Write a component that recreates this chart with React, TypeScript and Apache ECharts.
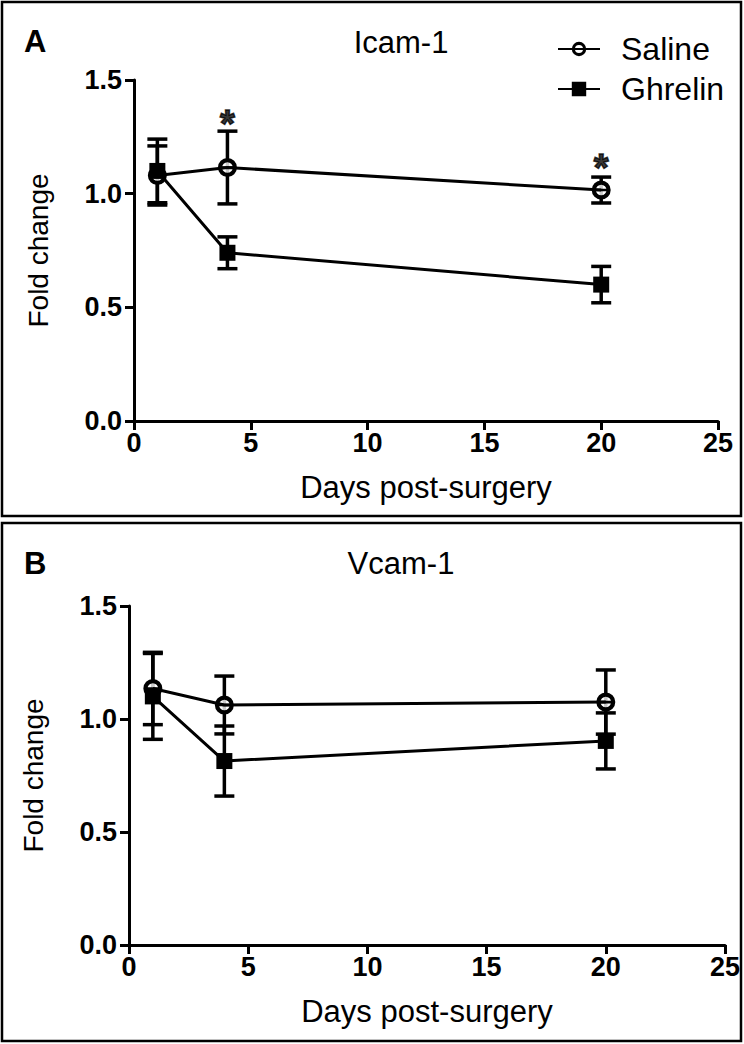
import React, { useEffect, useRef } from "react";
import * as echarts from "echarts";

const days = [1, 4, 20];
const icamSaline = [1.08, 1.115, 1.016];
const icamSalineSem = [0.13, 0.16, 0.057];
const icamGhrelin = [1.1, 0.74, 0.6];
const icamGhrelinSem = [0.14, 0.07, 0.08];
const icamStars = [[4, 1.335], [20, 1.14]];

const vcamSaline = [1.135, 1.062, 1.075];
const vcamSalineSem = [0.16, 0.128, 0.142];
const vcamGhrelin = [1.1, 0.814, 0.903];
const vcamGhrelinSem = [0.19, 0.155, 0.124];

const xLabel = "Days post-surgery";
const yLabel = "Fold change";
const panelTitles = ["Icam-1", "Vcam-1"];
const panelLetters = ["A", "B"];
const seriesNames = ["Saline", "Ghrelin"];

const FONT = "Liberation Sans, Arial, Helvetica, sans-serif";

const ringPath =
  "path://M50,0 A50,50 0 1,1 50,100 A50,50 0 1,1 50,0 Z M50,22 A28,28 0 1,0 50,78 A28,28 0 1,0 50,22 Z M22,43 L78,43 L78,57 L22,57 Z";

function errRender(params: any, api: any) {
  const x = api.value(0);
  const lo = api.value(1);
  const hi = api.value(2);
  const top = api.coord([x, hi]);
  const bot = api.coord([x, lo]);
  const w = 10;
  const style = { stroke: "#000", lineWidth: 3.5 };
  return {
    type: "group",
    children: [
      { type: "line", shape: { x1: top[0], y1: top[1], x2: bot[0], y2: bot[1] }, style },
      { type: "line", shape: { x1: top[0] - w, y1: top[1], x2: top[0] + w, y2: top[1] }, style },
      { type: "line", shape: { x1: bot[0] - w, y1: bot[1], x2: bot[0] + w, y2: bot[1] }, style },
    ],
  };
}

function panelSeries(idx: number, sal: number[], salSem: number[], gh: number[], ghSem: number[]) {
  const salPts = days.map((d, i) => [d, sal[i]]);
  const ghPts = days.map((d, i) => [d, gh[i]]);
  return [
    {
      type: "custom",
      name: "err-s-" + idx,
      xAxisIndex: idx,
      yAxisIndex: idx,
      renderItem: errRender,
      encode: { x: 0, y: [1, 2] },
      data: days.map((d, i) => [d, sal[i] - salSem[i], sal[i] + salSem[i]]),
      z: 1,
      silent: true,
    },
    {
      type: "custom",
      name: "err-g-" + idx,
      xAxisIndex: idx,
      yAxisIndex: idx,
      renderItem: errRender,
      encode: { x: 0, y: [1, 2] },
      data: days.map((d, i) => [d, gh[i] - ghSem[i], gh[i] + ghSem[i]]),
      z: 1,
      silent: true,
    },
    {
      type: "scatter",
      name: "bg-" + idx,
      xAxisIndex: idx,
      yAxisIndex: idx,
      symbol: "circle",
      symbolSize: 17,
      itemStyle: { color: "#fff" },
      data: salPts,
      z: 2,
      silent: true,
    },
    {
      type: "line",
      name: seriesNames[0],
      xAxisIndex: idx,
      yAxisIndex: idx,
      data: salPts,
      symbol: ringPath,
      symbolSize: 19,
      showAllSymbol: true,
      lineStyle: { color: "#000", width: 3 },
      itemStyle: { color: "#000" },
      z: 3,
    },
    {
      type: "line",
      name: seriesNames[1],
      xAxisIndex: idx,
      yAxisIndex: idx,
      data: ghPts,
      symbol: "rect",
      symbolSize: 16,
      lineStyle: { color: "#000", width: 3 },
      itemStyle: { color: "#000" },
      z: 3,
    },
  ];
}

function xAxisCfg(idx: number) {
  return {
    type: "value",
    gridIndex: idx,
    min: 0,
    max: 25,
    interval: 5,
    name: xLabel,
    nameLocation: "middle",
    nameGap: 51,
    nameTextStyle: { fontFamily: FONT, fontSize: 31, color: "#000" },
    axisLine: { show: true, lineStyle: { color: "#000", width: 3 } },
    axisTick: { show: true, length: 9, lineStyle: { color: "#000", width: 3 } },
    axisLabel: { margin: 8, fontFamily: FONT, fontSize: 27, fontWeight: "bold", color: "#000" },
    splitLine: { show: false },
  };
}

function yAxisCfg(idx: number) {
  return {
    type: "value",
    gridIndex: idx,
    min: 0,
    max: 1.5,
    interval: 0.5,
    name: yLabel,
    nameLocation: "middle",
    nameGap: 82,
    nameTextStyle: { fontFamily: FONT, fontSize: 28, color: "#000" },
    axisLine: { show: true, lineStyle: { color: "#000", width: 3 } },
    axisTick: { show: true, length: 9, lineStyle: { color: "#000", width: 3 } },
    axisLabel: {
      margin: 12,
      fontFamily: FONT,
      fontSize: 27,
      fontWeight: "bold",
      color: "#000",
      formatter: (v: number) => v.toFixed(1),
    },
    splitLine: { show: false },
  };
}

export default function App() {
  const ref = useRef<HTMLDivElement>(null);
  useEffect(() => {
    if (!ref.current) return;
    const chart = echarts.init(ref.current, undefined, { renderer: "svg" });
    const option: any = {
      animation: false,
      backgroundColor: "#fff",
      grid: [
        { left: 134, right: 26, top: 80, height: 341 },
        { left: 129, right: 19, top: 606, height: 339 },
      ],
      xAxis: [xAxisCfg(0), xAxisCfg(1)],
      yAxis: [yAxisCfg(0), yAxisCfg(1)],
      legend: {
        data: seriesNames,
        orient: "vertical",
        left: 552,
        top: 28,
        itemWidth: 42,
        itemHeight: 18,
        itemGap: 8,
        selectedMode: false,
        textStyle: { fontFamily: FONT, fontSize: 32, color: "#000", padding: [0, 0, 0, 16] },
      },
      graphic: [
        { type: "rect", shape: { x: 2, y: 2, width: 739, height: 514 }, style: { fill: "none", stroke: "#000", lineWidth: 2.5 }, silent: true },
        { type: "rect", shape: { x: 2, y: 523, width: 739, height: 518 }, style: { fill: "none", stroke: "#000", lineWidth: 2.5 }, silent: true },
        { type: "text", x: 24, y: 41, style: { text: panelLetters[0], font: "bold 31px " + FONT, fill: "#000", textVerticalAlign: "middle" } },
        { type: "text", x: 24, y: 563, style: { text: panelLetters[1], font: "bold 31px " + FONT, fill: "#000", textVerticalAlign: "middle" } },
        { type: "text", x: 401, y: 42, style: { text: panelTitles[0], font: "31px " + FONT, fill: "#000", textAlign: "center", textVerticalAlign: "middle" } },
        { type: "text", x: 401, y: 563, style: { text: panelTitles[1], font: "31px " + FONT, fill: "#000", textAlign: "center", textVerticalAlign: "middle" } },
      ],
      series: [
        ...panelSeries(0, icamSaline, icamSalineSem, icamGhrelin, icamGhrelinSem),
        ...panelSeries(1, vcamSaline, vcamSalineSem, vcamGhrelin, vcamGhrelinSem),
        {
          type: "scatter",
          name: "sig",
          xAxisIndex: 0,
          yAxisIndex: 0,
          symbolSize: 0,
          data: icamStars,
          silent: true,
          label: {
            show: true,
            position: "inside",
            formatter: "*",
            offset: [0, 6],
            fontFamily: FONT,
            fontSize: 38,
            fontWeight: "bold",
            color: "#000",
            textBorderColor: "#000",
            textBorderWidth: 1.5,
          },
          z: 5,
        },
      ],
    };
    chart.setOption(option);
    return () => chart.dispose();
  }, []);
  return (
    <div
      ref={ref}
      style={{ position: "absolute", left: 0, top: 0, width: 744, height: 1044 }}
    />
  );
}
